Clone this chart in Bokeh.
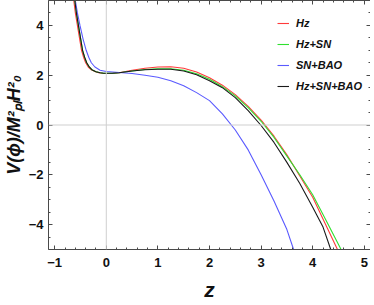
from bokeh.plotting import figure
from bokeh.models import LinearAxis, Span, Legend, LegendItem, FixedTicker
from bokeh.embed import file_html
from bokeh.resources import INLINE

# ---- data ----
z_hz = [-0.63, -0.60, -0.56, -0.52, -0.48, -0.44, -0.40, -0.35, -0.29, -0.22, -0.15, -0.07, 0.0, 0.12, 0.25, 0.5, 0.75, 1.0, 1.25, 1.5, 1.75, 2.0, 2.25, 2.5, 2.75, 3.0, 3.25, 3.5, 3.75, 4.0, 4.25, 4.48]
v_hz = [5.0, 4.5, 4.0, 3.5, 3.0, 2.72, 2.5, 2.33, 2.22, 2.15, 2.1, 2.08, 2.07, 2.08, 2.1, 2.2, 2.28, 2.33, 2.34, 2.28, 2.13, 1.9, 1.6, 1.22, 0.75, 0.2, -0.45, -1.2, -2.05, -2.9, -4.0, -5.0]

z_hzsn = [-0.61, -0.58, -0.54, -0.50, -0.46, -0.42, -0.38, -0.33, -0.28, -0.20, -0.12, -0.05, 0.0, 0.12, 0.25, 0.5, 0.75, 1.0, 1.25, 1.5, 1.75, 2.0, 2.25, 2.5, 2.75, 3.0, 3.25, 3.5, 3.75, 4.0, 4.25, 4.55]
v_hzsn = [5.0, 4.5, 4.0, 3.5, 3.0, 2.72, 2.5, 2.33, 2.22, 2.14, 2.1, 2.08, 2.08, 2.08, 2.1, 2.17, 2.23, 2.26, 2.26, 2.2, 2.06, 1.84, 1.54, 1.17, 0.7, 0.15, -0.5, -1.25, -2.0, -2.8, -3.8, -5.0]

z_snbao = [-0.60, -0.56, -0.51, -0.45, -0.39, -0.34, -0.29, -0.22, -0.12, 0.0, 0.25, 0.5, 0.75, 1.0, 1.25, 1.5, 1.75, 2.0, 2.25, 2.5, 2.75, 3.0, 3.25, 3.5, 3.63]
v_snbao = [5.0, 4.5, 4.0, 3.45, 3.0, 2.72, 2.5, 2.33, 2.2, 2.15, 2.11, 2.07, 2.0, 1.92, 1.78, 1.58, 1.3, 0.98, 0.45, -0.2, -1.0, -2.0, -3.05, -4.2, -5.0]

z_all = [-0.61, -0.58, -0.54, -0.50, -0.46, -0.42, -0.38, -0.33, -0.28, -0.20, -0.12, -0.05, 0.0, 0.12, 0.25, 0.5, 0.75, 1.0, 1.25, 1.5, 1.75, 2.0, 2.25, 2.5, 2.75, 3.0, 3.25, 3.5, 3.75, 4.0, 4.2, 4.35]
v_all = [5.0, 4.5, 4.0, 3.5, 3.0, 2.72, 2.5, 2.33, 2.22, 2.14, 2.1, 2.08, 2.08, 2.08, 2.1, 2.17, 2.22, 2.24, 2.24, 2.17, 2.02, 1.78, 1.5, 1.1, 0.58, -0.02, -0.7, -1.5, -2.35, -3.3, -4.1, -5.0]

labels = ["Hz", "Hz+SN", "SN+BAO", "Hz+SN+BAO"]
colors = ["#ff3b3b", "#2fe02f", "#5a5aff", "#1a1a1a"]

x_ticks = [-1, 0, 1, 2, 3, 4, 5]
y_ticks = [-4, -2, 0, 2, 4]

FONT = "Liberation Sans"
AX = "#4a4a4a"

p = figure(frame_width=322, frame_height=249, x_range=(-1.12, 5.12), y_range=(-5, 5),
           output_backend="svg", toolbar_location=None,
           min_border_left=43, min_border_right=0, min_border_top=0, min_border_bottom=55)
p.outline_line_color = None
p.xgrid.visible = False
p.ygrid.visible = False

p.add_layout(Span(location=0, dimension="height", line_color="#cfcfcf", line_width=1))
p.add_layout(Span(location=0, dimension="width", line_color="#cfcfcf", line_width=1))

series = [(z_hz, v_hz), (z_hzsn, v_hzsn), (z_snbao, v_snbao), (z_all, v_all)]
items = []
for (zz, vv), lab, col in zip(series, labels, colors):
    r = p.line(zz, vv, line_color=col, line_width=1.1)
    items.append(LegendItem(label=lab, renderers=[r]))

legend = Legend(items=items, location=(229, 157), border_line_color=None,
                background_fill_alpha=0, padding=0, margin=0, spacing=9,
                glyph_width=12, glyph_height=12, label_height=12, label_standoff=7,
                label_text_font=FONT, label_text_font_style="bold italic",
                label_text_font_size="11px", label_text_color="#111111")
p.add_layout(legend)


def style(ax, ticks, minor, labels_on=True):
    ax.ticker = FixedTicker(ticks=ticks, minor_ticks=minor)
    ax.axis_line_color = AX
    ax.major_tick_line_color = AX
    ax.minor_tick_line_color = AX
    ax.major_tick_in = 4
    ax.major_tick_out = 0
    ax.minor_tick_in = 2
    ax.minor_tick_out = 0
    if labels_on:
        ax.major_label_text_font = FONT
        ax.major_label_text_font_style = "bold"
        ax.major_label_text_font_size = "13px"
        ax.major_label_text_color = "#111111"
        ax.major_label_overrides = {t: (("\u2212" + str(-t)) if t < 0 else str(t)) for t in ticks}
    else:
        ax.major_label_overrides = {t: "" for t in ticks}
        ax.major_label_standoff = 0


x_minor = [round(-1.2 + 0.2 * i, 2) for i in range(33)]
y_minor = [round(-5 + 0.5 * i, 2) for i in range(21)]

style(p.xaxis[0], x_ticks, x_minor)
style(p.yaxis[0], y_ticks, y_minor)
p.xaxis[0].major_label_standoff = 8
p.yaxis[0].major_label_standoff = 5

p.xaxis.axis_label = "z"
p.xaxis.axis_label_text_font = FONT
p.xaxis.axis_label_text_font_style = "bold italic"
p.xaxis.axis_label_text_font_size = "21px"
p.xaxis.axis_label_text_color = "#111111"
p.xaxis.axis_label_standoff = 8

p.yaxis.axis_label = "V(\u03d5)/M\u00b2\u209a\u2097H\u00b2\u2080"
p.yaxis.axis_label_text_font = FONT
p.yaxis.axis_label_text_font_style = "bold italic"
p.yaxis.axis_label_text_font_size = "18px"
p.yaxis.axis_label_text_color = "#111111"
p.yaxis.axis_label_standoff = 2

top = LinearAxis()
style(top, x_ticks, x_minor, labels_on=False)
p.add_layout(top, "above")
right = LinearAxis()
style(right, y_ticks, y_minor, labels_on=False)
p.add_layout(right, "right")

open("out.html", "w").write(file_html(p, INLINE))
